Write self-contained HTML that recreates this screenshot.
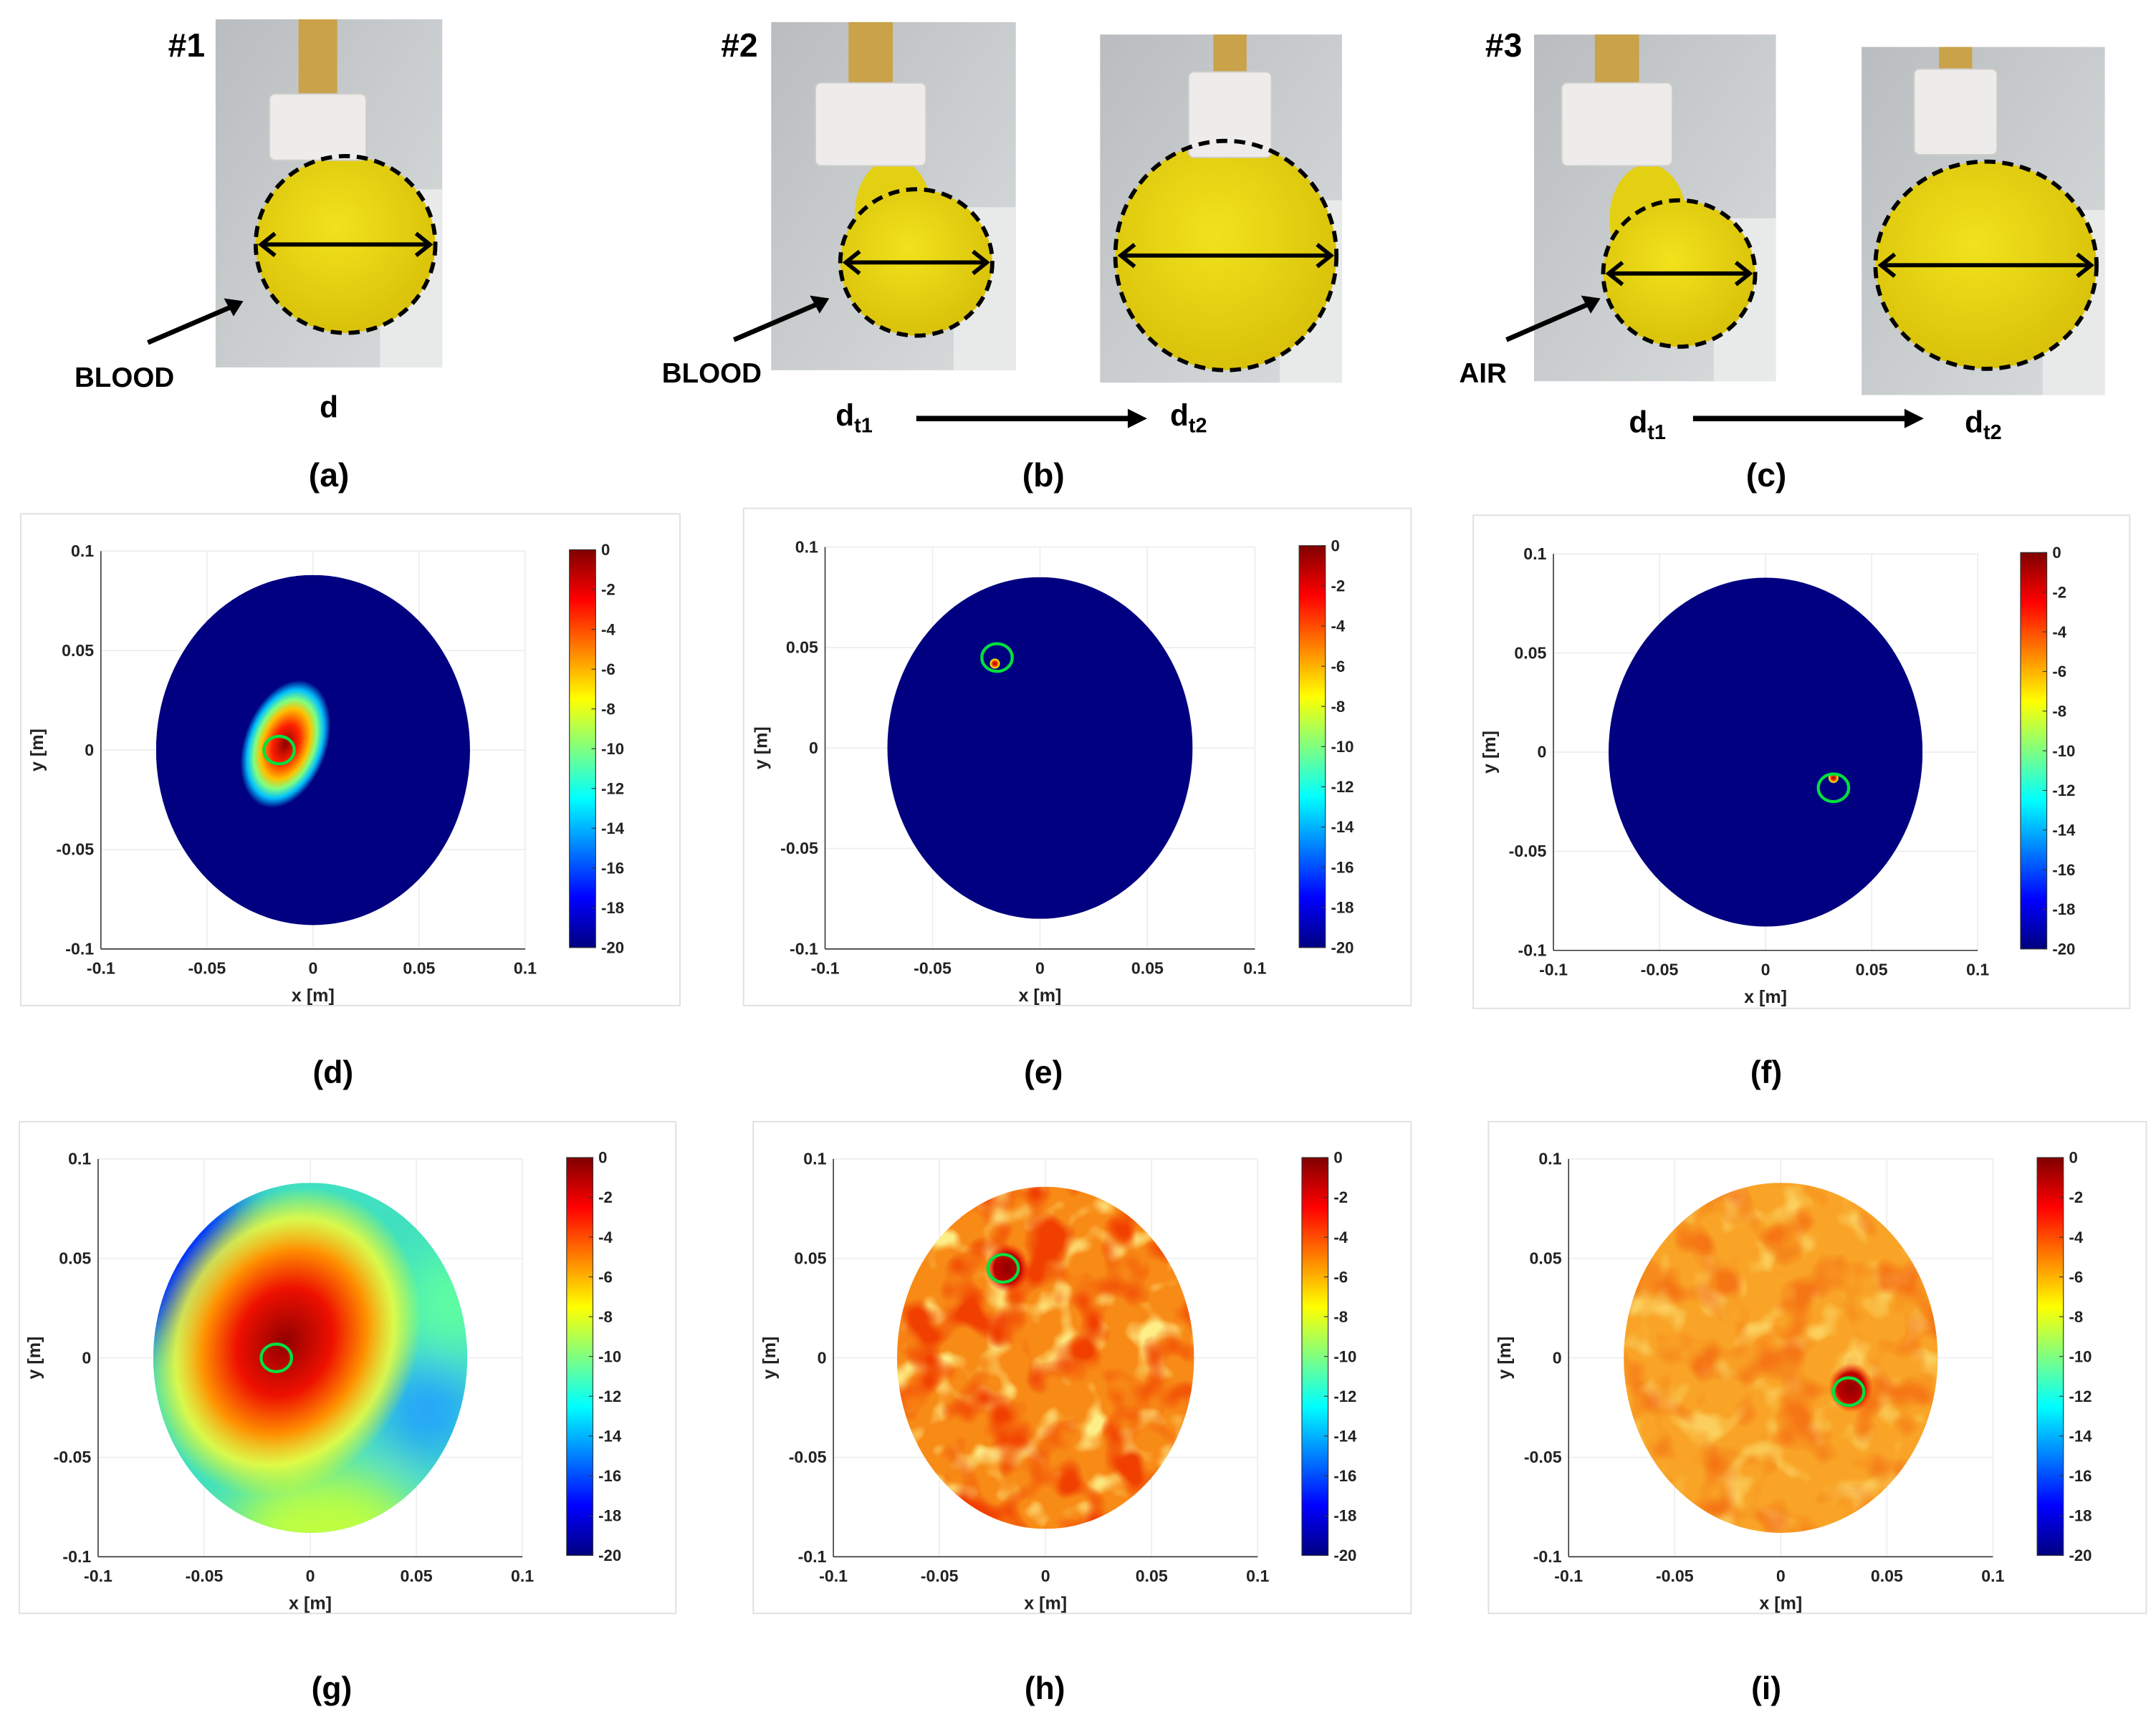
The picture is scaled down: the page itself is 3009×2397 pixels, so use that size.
<!DOCTYPE html>
<html><head><meta charset="utf-8"><style>
html,body{margin:0;padding:0;background:#fff}
svg{display:block}
text{font-family:"Liberation Sans",sans-serif}
</style></head><body>
<svg id="fig" width="3009" height="2397" viewBox="0 0 1560 1243" preserveAspectRatio="none" xmlns="http://www.w3.org/2000/svg">
<defs>
<linearGradient id="jet" x1="0" y1="0" x2="0" y2="1">
<stop offset="0" stop-color="#800000"/><stop offset="0.125" stop-color="#ff0000"/><stop offset="0.375" stop-color="#ffff00"/><stop offset="0.5" stop-color="#80ff80"/><stop offset="0.625" stop-color="#00ffff"/><stop offset="0.875" stop-color="#0000ff"/><stop offset="1" stop-color="#000080"/>
</linearGradient>
<linearGradient id="wall" x1="0" y1="0" x2="1" y2="1"><stop offset="0" stop-color="#b9bdbf"/><stop offset="1" stop-color="#d8dcdd"/></linearGradient>
<radialGradient id="ball" cx="0.45" cy="0.4" r="0.6"><stop offset="0" stop-color="#f2e21c"/><stop offset="1" stop-color="#d9c20a"/></radialGradient>
<radialGradient id="blobD"><stop offset="0" stop-color="#900000"/><stop offset="0.3" stop-color="#ff2000"/><stop offset="0.55" stop-color="#ffc000"/><stop offset="0.7" stop-color="#80ff80"/><stop offset="0.85" stop-color="#00c0ff"/><stop offset="1" stop-color="#000080"/></radialGradient>
<radialGradient id="blobG"><stop offset="0" stop-color="#900000"/><stop offset="0.35" stop-color="#ee1000"/><stop offset="0.6" stop-color="#ff9000"/><stop offset="0.8" stop-color="#ffff30" stop-opacity="0.8"/><stop offset="1" stop-color="#ffff00" stop-opacity="0"/></radialGradient>
<radialGradient id="hot"><stop offset="0" stop-color="#900000"/><stop offset="0.5" stop-color="#ff4000"/><stop offset="0.8" stop-color="#ffff00"/><stop offset="1" stop-color="#000080"/></radialGradient>
<radialGradient id="hotR"><stop offset="0" stop-color="#900000"/><stop offset="0.6" stop-color="#c00000"/><stop offset="1" stop-color="#ff2000" stop-opacity="0"/></radialGradient>
<filter id="soft" x="-50%" y="-50%" width="200%" height="200%"><feGaussianBlur stdDeviation="18"/></filter>
<filter id="noiseR" x="0" y="0" width="1" height="1"><feTurbulence type="fractalNoise" baseFrequency="0.035" numOctaves="2" seed="3"/><feColorMatrix type="matrix" values="0 0 0 0 0.88  0 0 0 0 0.05  0 0 0 0 0  4 0 0 0 -1.9"/></filter>
<filter id="noiseY" x="0" y="0" width="1" height="1"><feTurbulence type="fractalNoise" baseFrequency="0.045" numOctaves="2" seed="11"/><feColorMatrix type="matrix" values="0 0 0 0 0.98  0 0 0 0 0.95  0 0 0 0 0.3  4 0 0 0 -2.1"/></filter>
</defs>
<g id="photos"></g>
<g id="plots"></g>
</svg>
<script>
// ---- data ----
const panelLetters = ['d','e','f','g','h','i'];
const targetX = [-0.016,-0.020,0.032,-0.016,-0.020,0.032];
const targetY = [0.000,0.045,-0.018,0.000,0.045,-0.017];
const hotX = [-0.013,-0.021,0.032,-0.012,-0.018,0.033];
const hotY = [0.003,0.042,-0.013,0.008,0.045,-0.015];
const diskRX = [0.074,0.071,0.074,0.074,0.070,0.074];
const diskRY = [0.088,0.085,0.088,0.088,0.086,0.088];
const xTicks = [-0.1,-0.05,0,0.05,0.1];
const yTicks = [0.1,0.05,0,-0.05,-0.1];
const xTickLabels = ['-0.1','-0.05','0','0.05','0.1'];
const yTickLabels = ['0.1','0.05','0','-0.05','-0.1'];
const cbTicks = [0,-2,-4,-6,-8,-10,-12,-14,-16,-18,-20];

const NS='http://www.w3.org/2000/svg';
function mk(parent,tag,attrs,txt){const e=document.createElementNS(NS,tag);for(const k in attrs)e.setAttribute(k,attrs[k]);if(txt!==undefined)e.textContent=txt;parent.appendChild(e);return e;}

// ---- photos ----
const ph=document.getElementById('photos');
const photos=[
 {x:156,y:14,w:164,h:252,cx:250,cy:177,rx:65,ry:64,cap:[195,68,70,48]},
 {x:558,y:16,w:177,h:252,cx:663,cy:190,rx:55,ry:53,cap:[590,60,80,60],neck:true},
 {x:796,y:25,w:175,h:252,cx:887,cy:185,rx:80,ry:83,cap:[860,52,60,62]},
 {x:1110,y:25,w:175,h:251,cx:1215,cy:198,rx:55,ry:53,cap:[1130,60,80,60],neck:true},
 {x:1347,y:34,w:176,h:252,cx:1437,cy:192,rx:80,ry:75,cap:[1385,50,60,62]}
];
photos.forEach((p,i)=>{
 const g=mk(ph,'g',{});
 
 
 mk(g,'rect',{x:p.x,y:p.y,width:p.w,height:p.h,fill:'url(#wall)'});
 mk(g,'rect',{x:p.x+p.w-45,y:p.cy-40,width:45,height:p.y+p.h-p.cy+40,fill:'#e8eaea'});
 const c=p.cap;
 mk(g,'rect',{x:c[0]+c[2]*0.3,y:p.y,width:c[2]*0.4,height:c[1]-p.y+5,fill:'#c9a24a'});
 if(p.neck) mk(g,'ellipse',{cx:(c[0]+c[2]/2+p.cx)/2,cy:(c[1]+c[3]+p.cy)/2,rx:28,ry:40,fill:'#e4d012'});
 mk(g,'ellipse',{cx:p.cx,cy:p.cy,rx:p.rx,ry:p.ry,fill:'url(#ball)'});
 mk(g,'rect',{x:c[0],y:c[1],width:c[2],height:c[3],rx:4,fill:'#eeecea',stroke:'#cfcdca'});
 mk(g,'ellipse',{cx:p.cx,cy:p.cy,rx:p.rx,ry:p.ry,fill:'none',stroke:'#000','stroke-width':3,'stroke-dasharray':'8 5'});
 mk(g,'line',{x1:p.cx-p.rx+4,y1:p.cy,x2:p.cx+p.rx-4,y2:p.cy,stroke:'#000','stroke-width':3});
 mk(g,'polyline',{points:`${p.cx-p.rx+14},${p.cy-8} ${p.cx-p.rx+4},${p.cy} ${p.cx-p.rx+14},${p.cy+8}`,fill:'none',stroke:'#000','stroke-width':3});
 mk(g,'polyline',{points:`${p.cx+p.rx-14},${p.cy-8} ${p.cx+p.rx-4},${p.cy} ${p.cx+p.rx-14},${p.cy+8}`,fill:'none',stroke:'#000','stroke-width':3});
});
function lbl(x,y,t,size,name,anchor){const e=mk(ph,'text',{x:x,y:y,'font-size':size,'font-weight':'bold','text-anchor':anchor||'middle'},t);return e;}
lbl(135,41,'#1',24,'sample-1-label');lbl(535,41,'#2',24,'sample-2-label');lbl(1088,41,'#3',24,'sample-3-label');
[[107,248,176,218],[531,246,600,216],[1090,246,1158,216]].forEach((a,i)=>{
 const g=mk(ph,'g',{});
 mk(g,'line',{x1:a[0],y1:a[1],x2:a[2]-6,y2:a[3]+3,stroke:'#000','stroke-width':3.5});
 mk(g,'polygon',{points:`${a[2]},${a[3]} ${a[2]-14},${a[3]-2} ${a[2]-7},${a[3]+11}`,fill:'#000'});
});
lbl(90,280,'BLOOD',20,'blood-label-a');lbl(515,277,'BLOOD',20,'blood-label-b');lbl(1073,277,'AIR',20,'air-label');
lbl(238,302,'d',22,'diameter-label');
function dsub(x,y,sub,name){const e=lbl(x,y,'d',22,name);mk(e,'tspan',{'font-size':15,dy:5},sub);}
dsub(618,308,'t1','d-t1-label-b');dsub(860,308,'t2','d-t2-label-b');dsub(1192,313,'t1','d-t1-label-c');dsub(1435,313,'t2','d-t2-label-c');
[[663,303,830],[1225,303,1392]].forEach((a,i)=>{const g=mk(ph,'g',{});
 mk(g,'line',{x1:a[0],y1:a[1],x2:a[2]-10,y2:a[1],stroke:'#000','stroke-width':4});mk(g,'polygon',{points:`${a[2]},${a[1]} ${a[2]-14},${a[1]-7} ${a[2]-14},${a[1]+7}`,fill:'#000'});});
[['(a)',238],['(b)',755],['(c)',1278]].forEach(a=>lbl(a[1],352,a[0],24,'caption-'+a[0][1]));

// ---- plots ----
const pl=document.getElementById('plots');
const boxes=[
 {bx:15,by:372,bw:477,bh:356,ax0:73,ax1:380,ay0:399,ay1:687,cb:412,capx:241,cy:776},
 {bx:538,by:368,bw:483,bh:360,ax0:597,ax1:908,ay0:396,ay1:687,cb:940,capx:755,cy:776},
 {bx:1066,by:373,bw:475,bh:357,ax0:1124,ax1:1431,ay0:401,ay1:688,cb:1462,capx:1278,cy:776},
 {bx:14,by:812,bw:475,bh:356,ax0:71,ax1:378,ay0:839,ay1:1127,cb:410,capx:240,cy:1222},
 {bx:545,by:812,bw:476,bh:356,ax0:603,ax1:910,ay0:839,ay1:1127,cb:942,capx:756,cy:1222},
 {bx:1077,by:812,bw:476,bh:356,ax0:1135,ax1:1442,ay0:839,ay1:1127,cb:1474,capx:1278,cy:1222}
];
boxes.forEach((b,i)=>{
 const L=panelLetters[i];
 const g=mk(pl,'g',{});
 
 
 const sx=v=>b.ax0+(v+0.1)/0.2*(b.ax1-b.ax0);
 const sy=v=>b.ay1-(v+0.1)/0.2*(b.ay1-b.ay0);
 const kx=(b.ax1-b.ax0)/0.2, ky=(b.ay1-b.ay0)/0.2;
 mk(g,'rect',{x:b.bx,y:b.by,width:b.bw,height:b.bh,fill:'#fff',stroke:'#e0e0e0','stroke-width':1});
 xTicks.forEach(t=>mk(g,'line',{x1:sx(t),y1:b.ay0,x2:sx(t),y2:b.ay1,stroke:'#ececec','stroke-width':0.8}));
 yTicks.forEach(t=>mk(g,'line',{x1:b.ax0,y1:sy(t),x2:b.ax1,y2:sy(t),stroke:'#ececec','stroke-width':0.8}));
 const cx=sx(0),cy=sy(0),rx=diskRX[i]*kx,ry=diskRY[i]*ky;
 const cid='clip'+L;
 const cp=mk(g,'clipPath',{id:cid});mk(cp,'ellipse',{cx:cx,cy:cy,rx:rx,ry:ry});
 const disk=mk(g,'g',{'clip-path':`url(#${cid})`});
 
 
 const hx=sx(hotX[i]),hy=sy(hotY[i]);
 if(i<3){
  mk(disk,'rect',{x:cx-rx,y:cy-ry,width:2*rx,height:2*ry,fill:'#000080'});
  const hs=mk(disk,'ellipse',i===0?{cx:hx,cy:hy,rx:30,ry:48,fill:'url(#blobD)',transform:`rotate(20 ${hx} ${hy})`}:{cx:hx,cy:hy,rx:4,ry:4,fill:'url(#hot)'});
  
  
 } else if(i===3){
  mk(disk,'rect',{x:cx-rx,y:cy-ry,width:2*rx,height:2*ry,fill:'#40e0c0'});
  const bg=mk(disk,'g',{filter:'url(#soft)'});
  mk(bg,'ellipse',{cx:cx-rx,cy:cy-ry*0.7,rx:rx*0.55,ry:ry*0.6,fill:'#0030ff'});
  mk(bg,'ellipse',{cx:cx+rx*0.75,cy:cy+ry*0.3,rx:rx*0.3,ry:ry*0.28,fill:'#20a0ff'});
  mk(bg,'ellipse',{cx:cx+rx*0.1,cy:cy+ry*1.0,rx:rx*0.6,ry:ry*0.35,fill:'#c0ff40'});
  mk(bg,'ellipse',{cx:cx+rx*0.9,cy:cy-ry*0.3,rx:rx*0.3,ry:ry*0.3,fill:'#60ffa0'});
  const hs=mk(disk,'ellipse',{cx:hx,cy:hy,rx:95,ry:115,fill:'url(#blobG)',transform:`rotate(25 ${hx} ${hy})`});
  
  
 } else {
  mk(disk,'rect',{x:cx-rx,y:cy-ry,width:2*rx,height:2*ry,fill:i===4?'#f88a16':'#f9a426'});
  mk(disk,'rect',{x:cx-rx,y:cy-ry,width:2*rx,height:2*ry,filter:'url(#noiseY)',opacity:i===4?0.9:0.5});
  mk(disk,'rect',{x:cx-rx,y:cy-ry,width:2*rx,height:2*ry,filter:'url(#noiseR)',opacity:i===4?1:0.45});
  const hs=mk(disk,'ellipse',{cx:hx,cy:hy,rx:16,ry:18,fill:'url(#hotR)'});
  
  
 }
 const tc=mk(g,'ellipse',{cx:sx(targetX[i]),cy:sy(targetY[i]),rx:11,ry:10,fill:'none',stroke:'#00e040','stroke-width':2.2});
 
 
 mk(g,'line',{x1:b.ax0,y1:b.ay0,x2:b.ax0,y2:b.ay1,stroke:'#333','stroke-width':0.8});
 mk(g,'line',{x1:b.ax0,y1:b.ay1,x2:b.ax1,y2:b.ay1,stroke:'#333','stroke-width':0.8});
 xTicks.forEach((t,j)=>{const e=mk(g,'text',{x:sx(t),y:b.ay1+18,'font-size':12,'font-weight':'bold','text-anchor':'middle',fill:'#222'},xTickLabels[j]);});
 yTicks.forEach((t,j)=>{const e=mk(g,'text',{x:b.ax0-5,y:sy(t)+4,'font-size':12,'font-weight':'bold','text-anchor':'end',fill:'#222'},yTickLabels[j]);});
 let e=mk(g,'text',{x:(b.ax0+b.ax1)/2,y:b.ay1+38,'font-size':13,'font-weight':'bold','text-anchor':'middle',fill:'#222'},'x [m]');
 
 e=mk(g,'text',{x:0,y:0,'font-size':13,'font-weight':'bold','text-anchor':'middle',fill:'#222',transform:`translate(${b.ax0-42},${(b.ay0+b.ay1)/2}) rotate(-90)`},'y [m]');
 
 const cbar=mk(g,'rect',{x:b.cb,y:b.ay0-1,width:19,height:b.ay1-b.ay0,fill:'url(#jet)',stroke:'#333','stroke-width':0.6});
 
 cbTicks.forEach(t=>{const y=b.ay0-1+(-t/20)*(b.ay1-b.ay0);mk(g,'line',{x1:b.cb+16,y1:y,x2:b.cb+19,y2:y,stroke:'#333','stroke-width':0.6});
  const q=mk(g,'text',{x:b.cb+23,y:y+4,'font-size':11.5,'font-weight':'bold',fill:'#222'},String(t));});
 e=mk(g,'text',{x:b.capx,y:b.cy+8,'font-size':23,'font-weight':'bold','text-anchor':'middle',fill:'#000'},'('+L+')');
 
});
</script>
</body></html>
